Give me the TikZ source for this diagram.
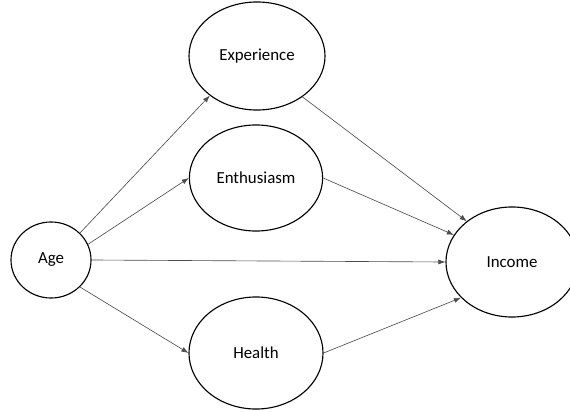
\documentclass[tikz,border=0pt]{standalone}
\usepackage{fontspec}
\setmainfont{Carlito}
\usetikzlibrary{shapes.geometric,arrows.meta}

\begin{document}
\begin{tikzpicture}[x=0.025cm,y=-0.025cm,
	var/.style={ellipse, draw, line width=0.8pt, inner sep=0pt, font=\fontsize{12}{14}\selectfont},
	link/.style={draw=black!70, line width=0.45pt, -{Latex[length=5pt,width=3.6pt]}}]
\useasboundingbox (0,0) rectangle (570,412);
\node[var, minimum width=2cm, minimum height=1.9cm] (age) at (51,260) {Age};
\node[var, minimum width=3.4cm, minimum height=2.7cm] (exp) at (257,56) {Experience};
	\node[var, minimum width=3.33cm, minimum height=2.65cm] (enth) at (256,178) {Enthusiasm};
	\node[var, minimum width=3.35cm, minimum height=2.8cm] (health) at (256,353) {Health};
		\node[var, minimum width=3.3cm, minimum height=2.75cm] (income) at (512,262) {Income};
\draw[link] (age.43) to (exp.220);
\draw[link] (age.23) to (enth.west);
\draw[link] (age.east) to (income.west);
\draw[link] (age.-43) to (health.west);
\draw[link] (exp.-42) to (income.138);
\draw[link] (enth.east) to (income.155);
\draw[link] (health.east) to (income.215);
\end{tikzpicture}
\end{document}
